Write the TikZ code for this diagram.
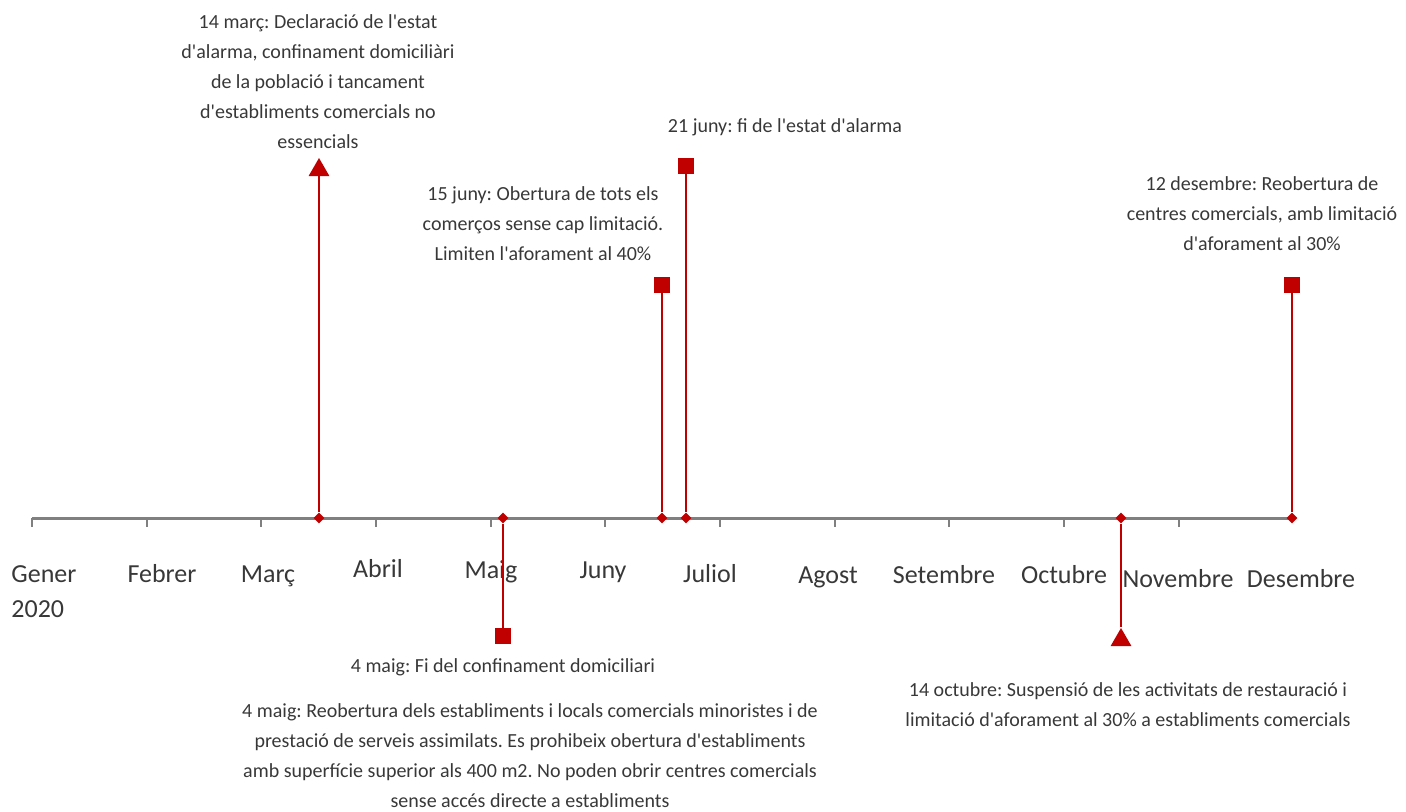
\documentclass[tikz,border=0pt]{standalone}
\usepackage{fontspec}
\setmainfont{Carlito}[Ligatures=TeXOff]
\usetikzlibrary{shapes.geometric, positioning}
\definecolor{evred}{RGB}{192,0,0}
\definecolor{axgray}{RGB}{128,128,128}
\definecolor{txtgray}{RGB}{56,56,56}
\frenchspacing

\begin{document}
\begin{tikzpicture}[x=0.5pt, y=-0.5pt, every node/.style={text=txtgray}]
    % styles: axis, markers on the axis, stems and labels
    \tikzset{
        axisline/.style={draw=axgray, line width=1.5pt},
        monthtick/.style={draw=axgray, line width=1pt},
        evdot/.style={diamond, fill=evred, minimum size=5.5pt, inner sep=0pt},
        evsq/.style={rectangle, fill=evred, minimum size=8pt, inner sep=0pt},
        evtri/.style={regular polygon, regular polygon sides=3, fill=evred, minimum size=12pt, inner sep=0pt},
        stem/.style={draw=evred, line width=0.6pt},
        evtext/.style={align=center, inner sep=0pt, font=\fontsize{10}{15}\selectfont},
        monthlab/.style={anchor=base, inner sep=0pt, font=\fontsize{13}{17}\selectfont}
    }
    \useasboundingbox (0,0) rectangle (1406,811);
    % time axis with one tick per month
    \foreach \i in {0,...,11}
        \coordinate (tk\i) at ({32+114.67*\i},518);
    \draw[axisline] (tk0) -- (tk11);
    \foreach \i in {0,...,10}
        \draw[monthtick] (tk\i) -- ++(0,9);
    % month names
    \node[monthlab, anchor=base west] (mon1) at (11,582) {Gener};
    \node[monthlab, anchor=base west] (year) at (11,617) {2020};
    \foreach \x/\y/\m [count=\k from 2] in {162/582/Febrer, 268/582/Març, 378/577/Abril,
            491/578/Maig, 603/578/Juny, 710/582/Juliol, 828/583/Agost, 944/583/Setembre,
            1064/583/Octubre, 1178/587/Novembre, 1301/587/Desembre}
        \node[monthlab] (mon\k) at (\x,\y) {\m};
    % events: diamond on the axis, end marker away from it
    \node[evdot] (d1) at (319,518) {};
    \node[evdot] (d2) at (503,518) {};
    \node[evdot] (d3) at (662,518) {};
    \node[evdot] (d4) at (686,518) {};
    \node[evdot] (d5) at (1121,518) {};
    \node[evdot] (d6) at (1292,518) {};
    \node[evtri] (e1) at (319,170) {};
    \node[evsq] (e2) at (503,636) {};
    \node[evsq] (e3) at (662,285) {};
    \node[evsq] (e4) at (686,166) {};
    \node[evtri] (e5) at (1121,640) {};
    \node[evsq] (e6) at (1292,285) {};
    \foreach \i in {1,...,6}
        \draw[stem] (d\i) -- (e\i);
    % event texts
    \node[evtext] (t1) at (318,82) {14 març: Declaració de l'estat\\d'alarma, confinament domiciliàri\\de la població i tancament\\d'establiments comercials no\\essencials};
    \node[evtext] (t2a) at (503,667) {4 maig: Fi del confinament domiciliari};
    \node[evtext] (t2b) at (530,756) {4 maig: Reobertura dels establiments i locals comercials minoristes i de\\prestació de serveis assimilats. Es prohibeix obertura d'establiments\\amb superfície superior als 400 m2. No poden obrir centres comercials\\sense accés directe a establiments};
    \node[evtext] (t3) at (543,224) {15 juny:\ Obertura de tots els\\comerços sense cap limitació.\\Limiten l'aforament al 40\%};
    \node[evtext] (t4) at (785,127) {21 juny: fi de l'estat d'alarma};
    \node[evtext] (t5) at (1128,705) {14 octubre: Suspensió de les activitats de restauració i\\limitació d'aforament al 30\% a establiments comercials};
    \node[evtext] (t6) at (1262,214) {12 desembre: Reobertura de\\centres comercials, amb limitació\\d'aforament al 30\%};
\end{tikzpicture}
\end{document}
